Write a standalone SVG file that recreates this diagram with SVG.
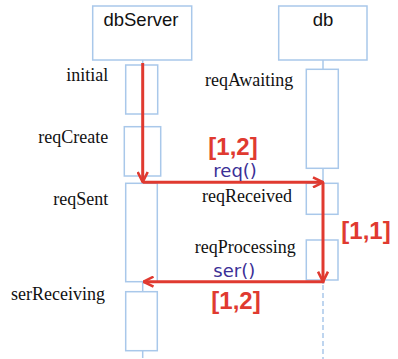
<svg xmlns="http://www.w3.org/2000/svg" width="398" height="359" viewBox="0 0 398 359">
<defs>
<style>
.box{fill:#fff;stroke:#a9c8ea;stroke-width:1.5}
.life{stroke:#a9c8ea;stroke-width:1.5;fill:none}
.dash{stroke-dasharray:5 3}
.head{font-family:"Liberation Sans",Arial,sans-serif;font-size:18.5px;fill:#111;text-anchor:middle}
.st{font-family:"Liberation Serif","Times New Roman",serif;font-size:18px;fill:#111}
.r{text-anchor:end}
.msg{font-family:"DejaVu Sans",sans-serif;font-size:18px;fill:#3b2f96}
.mult{font-family:"Liberation Sans",Arial,sans-serif;font-size:24px;font-weight:bold;fill:#e03a30}
.arr{stroke:#e03a30;stroke-width:3;fill:none}
</style>
<marker id="ah" viewBox="0 0 12 12" refX="11" refY="6" markerWidth="12" markerHeight="12" markerUnits="userSpaceOnUse" orient="auto">
<path d="M1,1 L11,6 L1,11" fill="none" stroke="#e03a30" stroke-width="2.6"/>
</marker>
</defs>
<rect width="398" height="359" fill="#fff"/>
<g id="lifelines">
<line class="life" x1="142.7" y1="60" x2="142.7" y2="358"/>
<line class="life" x1="323" y1="60" x2="323" y2="284"/>
<line class="life dash" x1="323" y1="285" x2="323" y2="359"/>
</g>
<g id="dbServer">
<rect class="box" x="92.7" y="6" width="99" height="54"/>
<text class="head" x="141" y="26">dbServer</text>
</g>
<g id="db">
<rect class="box" x="278.7" y="6" width="88.3" height="54"/>
<text class="head" x="323" y="26">db</text>
</g>
<g id="initial">
<rect class="box" x="125.7" y="65" width="32" height="49"/>
<text class="st r" x="108.3" y="81">initial</text>
</g>
<g id="reqCreate">
<rect class="box" x="124.3" y="126.7" width="36.4" height="49.3"/>
<text class="st r" x="108.3" y="143">reqCreate</text>
</g>
<g id="reqSent">
<rect class="box" x="125.7" y="183.3" width="31.6" height="98.4"/>
<text class="st r" x="108.3" y="205">reqSent</text>
</g>
<g id="serReceiving">
<rect class="box" x="125.7" y="291.7" width="31.6" height="59"/>
<text class="st r" x="105" y="300">serReceiving</text>
</g>
<g id="reqAwaiting">
<rect class="box" x="306.3" y="69.3" width="32" height="99"/>
<text class="st r" x="293.3" y="86">reqAwaiting</text>
</g>
<g id="reqReceived">
<rect class="box" x="306.3" y="183.3" width="31.7" height="31"/>
<text class="st r" x="292" y="201.5">reqReceived</text>
</g>
<g id="reqProcessing">
<rect class="box" x="306.3" y="240" width="31.7" height="40"/>
<text class="st r" x="295.7" y="253.3">reqProcessing</text>
</g>
<g id="connectors">
<line class="arr" x1="142.7" y1="63" x2="142.7" y2="182" marker-end="url(#ah)"/>
<line class="arr" x1="142.7" y1="182.3" x2="323" y2="182.3" marker-end="url(#ah)"/>
<line class="arr" x1="323" y1="182.3" x2="323" y2="281.7" marker-end="url(#ah)"/>
<line class="arr" x1="324.5" y1="281.7" x2="143.5" y2="281.7" marker-end="url(#ah)"/>
</g>
<g id="labels">
<text class="mult" x="208.3" y="155">[1,2]</text>
<text class="msg" x="213.3" y="176.5">req()</text>
<text class="msg" x="213.3" y="276.5">ser()</text>
<text class="mult" x="341.3" y="239">[1,1]</text>
<text class="mult" x="211.3" y="309">[1,2]</text>
</g>
</svg>
